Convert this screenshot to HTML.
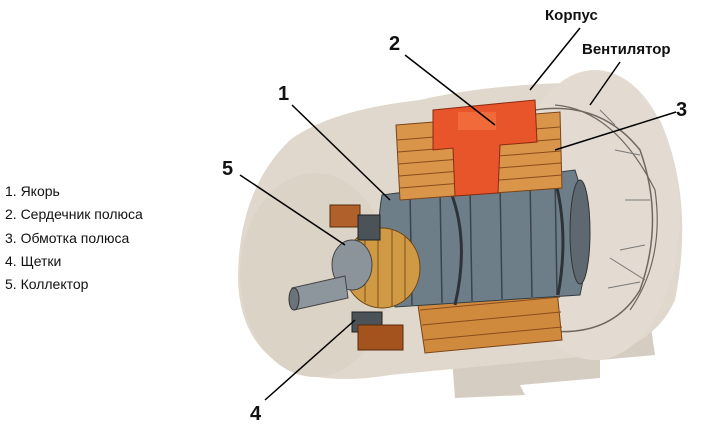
<!DOCTYPE html>
<html><head><meta charset="utf-8"><style>
html,body{margin:0;padding:0;background:#fff;width:707px;height:425px;overflow:hidden}
svg{display:block}
text{font-family:"Liberation Sans",sans-serif}
</style></head><body>
<svg width="707" height="425" viewBox="0 0 707 425">
<!-- feet -->
<path d="M450 335 L520 325 L530 360 L600 355 L600 325 L650 320 L655 355 L600 360 L600 378 L520 385 L525 395 L455 398 Z" fill="#d6cdc2"/>
<!-- housing body -->
<path d="M290 140 Q330 110 420 100 Q470 88 540 84 Q620 78 660 120 Q695 200 675 300 Q655 345 600 355 L390 375 Q330 385 290 370 Q240 345 238 280 Q238 190 290 140 Z" fill="#e0d8cd"/>
<ellipse cx="595" cy="215" rx="85" ry="145" fill="#e3dbd1"/>
<path d="M535 110 Q600 100 640 150 Q665 220 640 290 Q610 340 540 330" fill="none" stroke="#6f6860" stroke-width="1.5"/>
<path d="M555 105 Q615 110 655 190 Q665 260 630 310" fill="none" stroke="#6f6860" stroke-width="1.2"/>
<g stroke="#777" stroke-width="1">
<line x1="600" y1="110" x2="615" y2="125"/><line x1="615" y1="150" x2="640" y2="155"/>
<line x1="625" y1="200" x2="650" y2="200"/><line x1="620" y1="250" x2="645" y2="245"/>
<line x1="608" y1="288" x2="640" y2="282"/><line x1="610" y1="258" x2="645" y2="280"/>
</g>
<!-- left end cap -->
<ellipse cx="315" cy="275" rx="75" ry="102" fill="#dcd3c7"/>
<!-- bottom pole -->
<path d="M415 285 L555 270 L562 340 L425 353 Z" fill="#d08a3e" stroke="#7a4418"/>
<path d="M410 280 L555 266 L560 285 L418 298 Z" fill="#9a4e22"/>
<g stroke="#8a4c1c"><line x1="420" y1="310" x2="560" y2="297"/><line x1="422" y1="325" x2="561" y2="312"/><line x1="424" y1="340" x2="562" y2="327"/></g>
<!-- armature -->
<path d="M382 195 L575 170 Q595 230 580 295 L395 307 Q372 250 382 195 Z" fill="#6e7e88" stroke="#333c42"/>
<g stroke="#3a444b" stroke-width="1.5">
<line x1="410" y1="192" x2="412" y2="305"/><line x1="440" y1="189" x2="442" y2="303"/><line x1="470" y1="186" x2="472" y2="301"/><line x1="500" y1="182" x2="502" y2="299"/><line x1="530" y1="178" x2="532" y2="297"/><line x1="555" y1="175" x2="557" y2="295"/>
</g>
<path d="M450 190 Q470 240 455 305" fill="none" stroke="#2d3338" stroke-width="3"/>
<path d="M553 172 Q570 230 558 295" fill="none" stroke="#2d3338" stroke-width="3"/>
<ellipse cx="580" cy="232" rx="10" ry="52" fill="#5d6870" stroke="#333"/>
<!-- top pole -->
<path d="M396 125 L560 112 L562 188 L400 200 Z" fill="#d9954a" stroke="#7a4418"/>
<g stroke="#8a4c1c"><line x1="397" y1="140" x2="560" y2="127"/><line x1="398" y1="152" x2="561" y2="139"/><line x1="398" y1="164" x2="561" y2="151"/><line x1="399" y1="176" x2="561" y2="163"/><line x1="400" y1="188" x2="562" y2="175"/></g>
<path d="M433 110 L535 100 L537 142 L500 145 L498 193 L455 196 L453 148 L433 150 Z" fill="#e8552b" stroke="#8a2a10"/>
<rect x="458" y="112" width="38" height="18" fill="#f06a3a"/>
<!-- collector -->
<ellipse cx="382" cy="268" rx="38" ry="40" fill="#d09a45" stroke="#6b4415"/>
<g stroke="#7a4f18"><line x1="365" y1="235" x2="365" y2="302"/><line x1="378" y1="230" x2="378" y2="307"/><line x1="392" y1="230" x2="392" y2="307"/><line x1="405" y1="236" x2="405" y2="300"/></g>
<!-- brushes -->
<rect x="330" y="205" width="30" height="22" fill="#b0602a" stroke="#5a2a0a"/>
<rect x="358" y="215" width="22" height="25" fill="#4b5258" stroke="#222"/>
<rect x="352" y="312" width="30" height="20" fill="#4b5258" stroke="#222"/>
<rect x="358" y="325" width="45" height="25" fill="#a4521e" stroke="#5a2a0a"/>
<!-- shaft -->
<ellipse cx="352" cy="265" rx="20" ry="25" fill="#8b949b" stroke="#444"/>
<path d="M292 288 L345 276 L348 298 L294 310 Z" fill="#8d969d" stroke="#444"/>
<ellipse cx="294" cy="299" rx="5" ry="11" fill="#6b747a" stroke="#333"/>
<!-- leaders -->
<g stroke="#000" stroke-width="1.5">
<line x1="292" y1="105" x2="390" y2="200"/>
<line x1="405" y1="55" x2="495" y2="125"/>
<line x1="676" y1="112" x2="555" y2="150"/>
<line x1="265" y1="400" x2="355" y2="320"/>
<line x1="240" y1="175" x2="345" y2="245"/>
<line x1="580" y1="28" x2="530" y2="90"/>
<line x1="620" y1="62" x2="590" y2="105"/>
</g>
<g font-weight="bold" font-size="20" fill="#111">
<text x="278" y="100">1</text><text x="389" y="50">2</text><text x="676" y="116">3</text><text x="250" y="420">4</text><text x="222" y="175">5</text>
</g>
<g font-weight="bold" font-size="15" fill="#111">
<text x="545" y="20">Корпус</text><text x="582" y="54">Вентилятор</text>
</g>
<g font-size="14" fill="#111">
<text x="5" y="196">1. Якорь</text><text x="5" y="219">2. Сердечник полюса</text><text x="5" y="243">3. Обмотка полюса</text><text x="5" y="266">4. Щетки</text><text x="5" y="289">5. Коллектор</text>
</g>
</svg>
</body></html>
